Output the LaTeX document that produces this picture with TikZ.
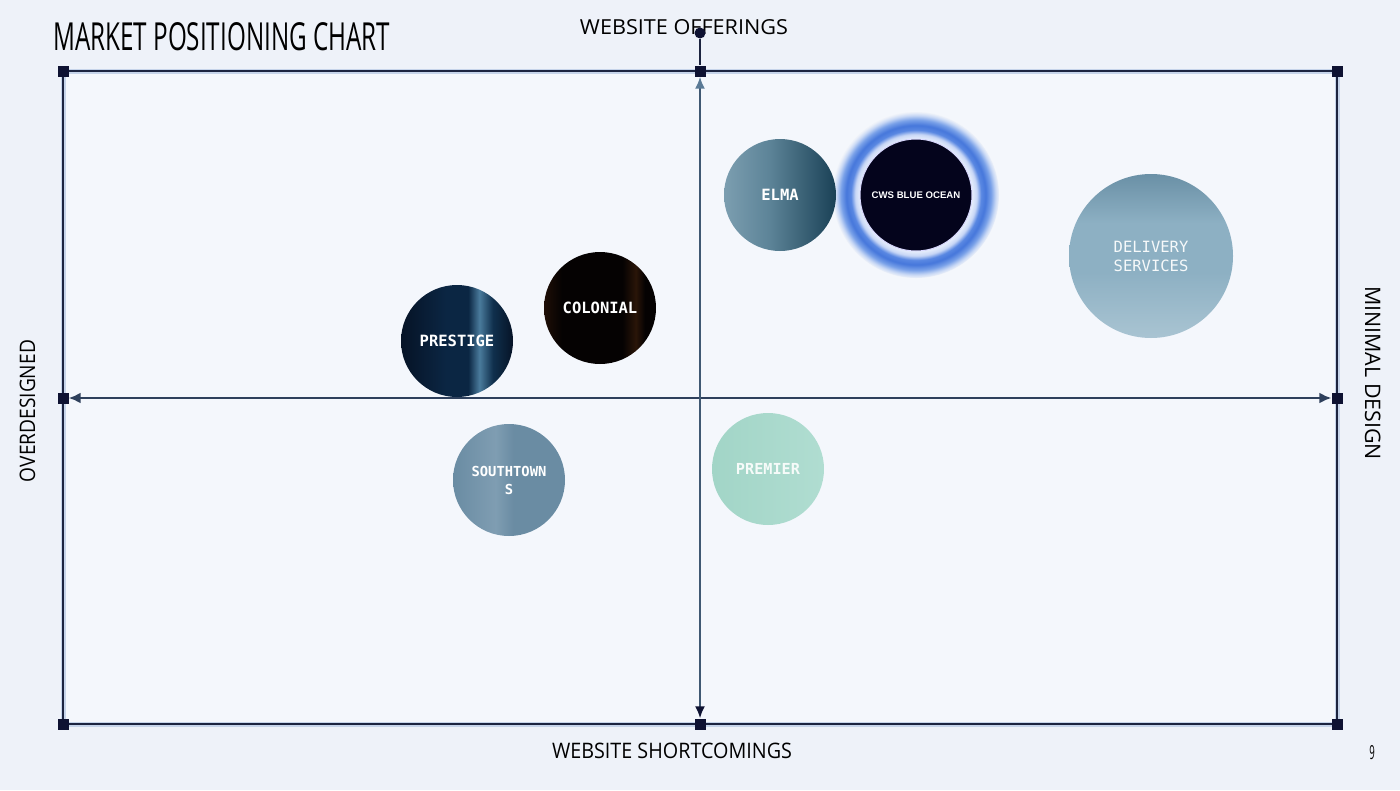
\documentclass[tikz,border=0pt]{standalone}
\usepackage{fontspec}
\setmainfont{Open Sans}
\newfontfamily\monof{DejaVu Sans Mono}
\newfontfamily\arialf{Liberation Sans}
\usetikzlibrary{arrows.meta}
\definecolor{bgc}{HTML}{EEF2F9}
\definecolor{innerc}{HTML}{F4F7FC}
\definecolor{navy}{HTML}{0E1232}
\definecolor{framec}{HTML}{1C2440}
\definecolor{haloc}{HTML}{C6D4EA}
\definecolor{axisc}{HTML}{2E405C}
\definecolor{vaxisc}{HTML}{3F5872}
\definecolor{steel}{HTML}{5A7A96}
% prestige
\definecolor{pA}{HTML}{061326}
\definecolor{pB}{HTML}{0B2643}
\definecolor{pC}{HTML}{4A7B9C}
\definecolor{pD}{HTML}{10304D}
% colonial
\definecolor{cA}{HTML}{1E0E06}
\definecolor{cB}{HTML}{050202}
\definecolor{cC}{HTML}{2A1508}
% elma
\definecolor{eA}{HTML}{7C9EB0}
\definecolor{eB}{HTML}{5D8498}
\definecolor{eC}{HTML}{1A4156}
% delivery
\definecolor{dA}{HTML}{6A90A6}
\definecolor{dB}{HTML}{8DB0C3}
\definecolor{dC}{HTML}{A9C4D2}
% southtowns
\definecolor{sA}{HTML}{6A8CA3}
\definecolor{sB}{HTML}{7F9DB2}
% premier
\definecolor{prA}{HTML}{A2D5C7}
\definecolor{prB}{HTML}{B0DDD1}
% cws
\definecolor{cws}{HTML}{04041C}
\definecolor{g1}{HTML}{E4ECFB}
\definecolor{g2}{HTML}{C8D7F6}
\definecolor{g3}{HTML}{5A88E2}
\definecolor{g4}{HTML}{4677DB}
\definecolor{g5}{HTML}{78A0E8}
\definecolor{g6}{HTML}{C8D8F5}
\pgfdeclarehorizontalshading{prestigeS}{100bp}{color(0bp)=(pA); color(25bp)=(pA); color(45bp)=(pB); color(55bp)=(pB); color(60bp)=(pC); color(66bp)=(pD); color(75bp)=(pA); color(100bp)=(pA)}
\pgfdeclarehorizontalshading{colonialS}{100bp}{color(0bp)=(cA); color(25bp)=(cA); color(33bp)=(cB); color(60bp)=(cB); color(66bp)=(cC); color(70bp)=(cB); color(75bp)=(cB); color(100bp)=(cB)}
\pgfdeclarehorizontalshading{elmaS}{100bp}{color(0bp)=(eA); color(25bp)=(eA); color(45bp)=(eB); color(75bp)=(eC); color(100bp)=(eC)}
\pgfdeclareverticalshading{deliveryS}{100bp}{color(0bp)=(dC); color(25bp)=(dC); color(45bp)=(dB); color(60bp)=(dB); color(75bp)=(dA); color(100bp)=(dA)}
\pgfdeclarehorizontalshading{southS}{100bp}{color(0bp)=(sA); color(25bp)=(sA); color(44bp)=(sB); color(52bp)=(sA); color(75bp)=(sA); color(100bp)=(sA)}
\pgfdeclarehorizontalshading{premierS}{100bp}{color(0bp)=(prA); color(25bp)=(prA); color(75bp)=(prB); color(100bp)=(prB)}
\pgfdeclareradialshading{glowS}{\pgfpoint{0bp}{0bp}}{color(0bp)=(g1); color(17bp)=(g1); color(18.3bp)=(g2); color(19.6bp)=(g3); color(21bp)=(g4); color(22.6bp)=(g5); color(24bp)=(g6); color(25bp)=(bgc); color(50bp)=(bgc)}
\pgfdeclarelayer{back}
\pgfsetlayers{back,main}
\newcommand{\bubblefont}{\monof\bfseries\fontsize{15.5}{19}\selectfont}
\begin{document}
\begin{tikzpicture}[x=1pt,y=-1pt,
  sq/.style={fill=navy, minimum size=11pt, inner sep=0pt, draw=none},
  bubble/.style={circle, minimum size=112pt, inner sep=0pt, text=white, font=\bubblefont, align=center},
  axislabel/.style={inner sep=0pt, text=black}
]
\useasboundingbox (0,0) rectangle (1400,790);
% corner and middle squares
\node[sq] (tl) at (63,71) {};
\node[sq] (tm) at (700,71) {};
\node[sq] (tr) at (1337,71) {};
\node[sq] (ml) at (63,398) {};
\node[sq] (mr) at (1337,398) {};
\node[sq] (bl) at (63,724) {};
\node[sq] (bm) at (700,724) {};
\node[sq] (br) at (1337,724) {};
\begin{pgfonlayer}{back}
\fill[bgc] (0,0) rectangle (1400,790);
\fill[innerc] (tl.center) rectangle (br.center);
\draw[haloc, line width=5pt] (tl.center) -- (tr.center) -- (br.center) -- (bl.center) -- cycle;
\draw[framec, line width=2pt] (tl.center) -- (tm.center) -- (tr.center) -- (mr.center) -- (br.center) -- (bm.center) -- (bl.center) -- (ml.center) -- cycle;
\end{pgfonlayer}
% axes
\draw[axisc, line width=2pt, {Latex[length=12pt,width=11pt]}-{Latex[length=12pt,width=11pt]}] (ml) -- (mr);
\draw[vaxisc, line width=2pt, {Latex[length=12pt,width=10pt,color=steel]}-{Latex[length=12pt,width=10pt,color=navy]}] (tm) -- (bm);
% labels
\node[axislabel, anchor=base west] (title) at (53,50) {\resizebox{337pt}{28pt}{MARKET POSITIONING CHART}};
\node[axislabel, anchor=base] (top) at (684,34) {\resizebox{208pt}{15pt}{WEBSITE OFFERINGS}};
\node[axislabel, anchor=base] (bottom) at (672,758) {\resizebox{240pt}{15.5pt}{WEBSITE SHORTCOMINGS}};
\node[axislabel, anchor=base, rotate=90] (left) at (35,411) {\resizebox{142pt}{15.5pt}{OVERDESIGNED}};
\node[axislabel, anchor=base, rotate=-90] (right) at (1365,373) {\resizebox{174pt}{15.5pt}{MINIMAL DESIGN}};
\node[axislabel, anchor=base] (page) at (1372,759) {\resizebox{5.5pt}{14pt}{9}};
% top dot
\node[circle, fill=navy, minimum size=11pt, inner sep=0pt] (dot) at (700,33) {};
\draw[framec, line width=1.6pt] (dot) -- (tm);
% bubbles
\node[circle, minimum size=166pt, inner sep=0pt, shading=glowS] (glow) at (916,195) {};
\node[bubble, fill=cws, draw=white!85!blue, line width=1pt, font=\arialf\bfseries\fontsize{9.6}{11}\selectfont] (cws) at (916,195) {CWS BLUE OCEAN};
\node[bubble, shading=elmaS] (elma) at (780,195) {ELMA};
\node[bubble, minimum size=164pt, shading=deliveryS, text=white!92!dB, font=\monof\fontsize{15.5}{19}\selectfont] (delivery) at (1151,256) {DELIVERY\\SERVICES};
\node[bubble, shading=colonialS] (colonial) at (600,308) {COLONIAL};
\node[bubble, shading=prestigeS] (prestige) at (457,341) {PRESTIGE};
\node[bubble, shading=southS, font=\monof\bfseries\fontsize{13.8}{18}\selectfont] (south) at (509,480) {SOUTHTOWN\\S};
\node[bubble, shading=premierS, text=white!90!prA, font=\monof\bfseries\fontsize{15.2}{19}\selectfont] (premier) at (768,469) {PREMIER};
\end{tikzpicture}
\end{document}
